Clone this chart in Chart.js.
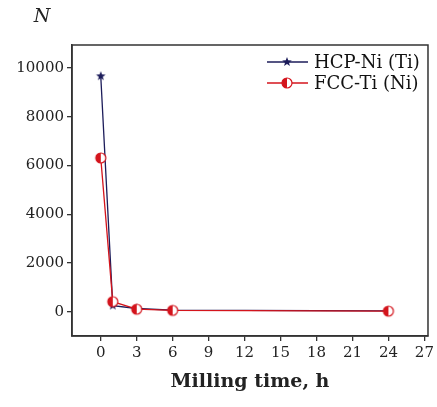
<!DOCTYPE html>
<html>
<head>
<meta charset="utf-8">
<script src="https://cdn.jsdelivr.net/npm/chart.js@4"></script>
<style>
  html, body { margin: 0; padding: 0; background: #fff; }
  #wrap { width: 437px; height: 407px; }
</style>
</head>
<body>
<div id="wrap"><canvas id="myChart" width="437" height="407"></canvas></div>
<script>
// du lieu doc tu hinh
var millingTime = [0, 1, 3, 6, 24];
var hcpNi = [9670, 250, 130, 60, 30];
var fccTi = [6310, 410, 100, 50, 20];
var xTicks = [0, 3, 6, 9, 12, 15, 18, 21, 24, 27];
var yTicks = [0, 2000, 4000, 6000, 8000, 10000];

var FONT = '"DejaVu Serif", serif';
var navy = '#1c1c5a';
var red = '#d4141c';

// marker ngoi sao
function makeStar(r) {
    var c = document.createElement('canvas');
    c.width = c.height = r * 2 + 2;
    var g = c.getContext('2d');
    g.translate(r + 1, r + 1);
    g.beginPath();
    for (var i = 0; i < 10; i++) {
        var rad = i % 2 === 0 ? r : r * 0.42;
        var a = -Math.PI / 2 + i * Math.PI / 5;
        g.lineTo(rad * Math.cos(a), rad * Math.sin(a));
    }
    g.closePath();
    g.fillStyle = navy;
    g.fill();
    return c;
}
// marker hinh tron nua to mau
function makeHalfCircle(r) {
    var c = document.createElement('canvas');
    c.width = c.height = r * 2 + 4;
    var g = c.getContext('2d');
    g.translate(r + 2, r + 2);
    g.beginPath();
    g.arc(0, 0, r, 0, Math.PI * 2);
    g.fillStyle = '#fff';
    g.fill();
    g.beginPath();
    g.arc(0, 0, r, Math.PI / 2, Math.PI * 1.5);
    g.closePath();
    g.fillStyle = red;
    g.fill();
    g.beginPath();
    g.arc(0, 0, r, 0, Math.PI * 2);
    g.lineWidth = 1.2;
    g.strokeStyle = red;
    g.stroke();
    return c;
}
var starImg = makeStar(5);
var halfImg = makeHalfCircle(5);

var seriesNames = ['HCP-Ni (Ti)', 'FCC-Ti (Ni)'];

// ve khung, chu N va chu thich
var extras = {
    id: 'extras',
    afterDraw: function (chart) {
        var ctx = chart.ctx, a = chart.chartArea;
        ctx.save();
        ctx.strokeStyle = '#333';
        ctx.lineWidth = 1.5;
        ctx.strokeRect(a.left, a.top, a.right - a.left, a.bottom - a.top);
        ctx.fillStyle = '#222';
        ctx.font = 'italic 19px ' + FONT;
        ctx.textAlign = 'center';
        ctx.textBaseline = 'middle';
        ctx.fillText('N', 42, 17);
        // chu thich
        var items = [
            { name: seriesNames[0], color: navy, img: starImg },
            { name: seriesNames[1], color: red, img: halfImg }
        ];
        ctx.font = '18px ' + FONT;
        ctx.textAlign = 'left';
        items.forEach(function (it, i) {
            var y = 62 + i * 21;
            ctx.strokeStyle = it.color;
            ctx.lineWidth = 1.3;
            ctx.beginPath();
            ctx.moveTo(267, y);
            ctx.lineTo(308, y);
            ctx.stroke();
            ctx.drawImage(it.img, 287 - it.img.width / 2, y - it.img.height / 2);
            ctx.fillStyle = '#111';
            ctx.fillText(it.name, 314, y + 1);
        });
        ctx.restore();
    }
};

const ctx = document.getElementById('myChart');
new Chart(ctx, {
    type: 'scatter',
    data: {
        datasets: [{
            label: seriesNames[0],
            data: millingTime.map((t, i) => ({ x: t, y: hcpNi[i] })),
            showLine: true,
            borderColor: navy,
            borderWidth: 1.3,
            pointStyle: starImg,
            order: 1
        }, {
            label: seriesNames[1],
            data: millingTime.map((t, i) => ({ x: t, y: fccTi[i] })),
            showLine: true,
            borderColor: red,
            borderWidth: 1.3,
            pointStyle: halfImg,
            order: 0
        }]
    },
    plugins: [extras],
    options: {
        responsive: false,
        animation: false,
        layout: { padding: { top: 45, right: 6, left: 0, bottom: 0 } },
        plugins: { legend: { display: false }, tooltip: { enabled: false } },
        scales: {
            x: {
                type: 'linear',
                min: -2.4,
                max: 27.3,
                afterBuildTicks: axis => { axis.ticks = xTicks.map(v => ({ value: v })); },
                afterFit: axis => { axis.height = 71; },
                grid: { drawOnChartArea: false, tickLength: 5, color: '#333', lineWidth: 1.3 },
                border: { color: '#333', width: 1.5 },
                ticks: { color: '#222', font: { family: FONT, size: 15 }, padding: 3, maxRotation: 0, callback: v => String(v) },
                title: {
                    display: true,
                    text: 'Milling time, h',
                    color: '#222',
                    font: { family: FONT, size: 19, weight: 'bold' },
                    padding: { top: 0, bottom: 14 }
                }
            },
            y: {
                min: -1000,
                max: 10950,
                afterBuildTicks: axis => { axis.ticks = yTicks.map(v => ({ value: v })); },
                afterFit: axis => { axis.width = 72; },
                grid: { drawOnChartArea: false, tickLength: 5, color: '#333', lineWidth: 1.3 },
                border: { color: '#333', width: 1.5 },
                ticks: { color: '#222', font: { family: FONT, size: 15 }, padding: 3, callback: v => String(v) }
            }
        }
    }
});
</script>
</body>
</html>
